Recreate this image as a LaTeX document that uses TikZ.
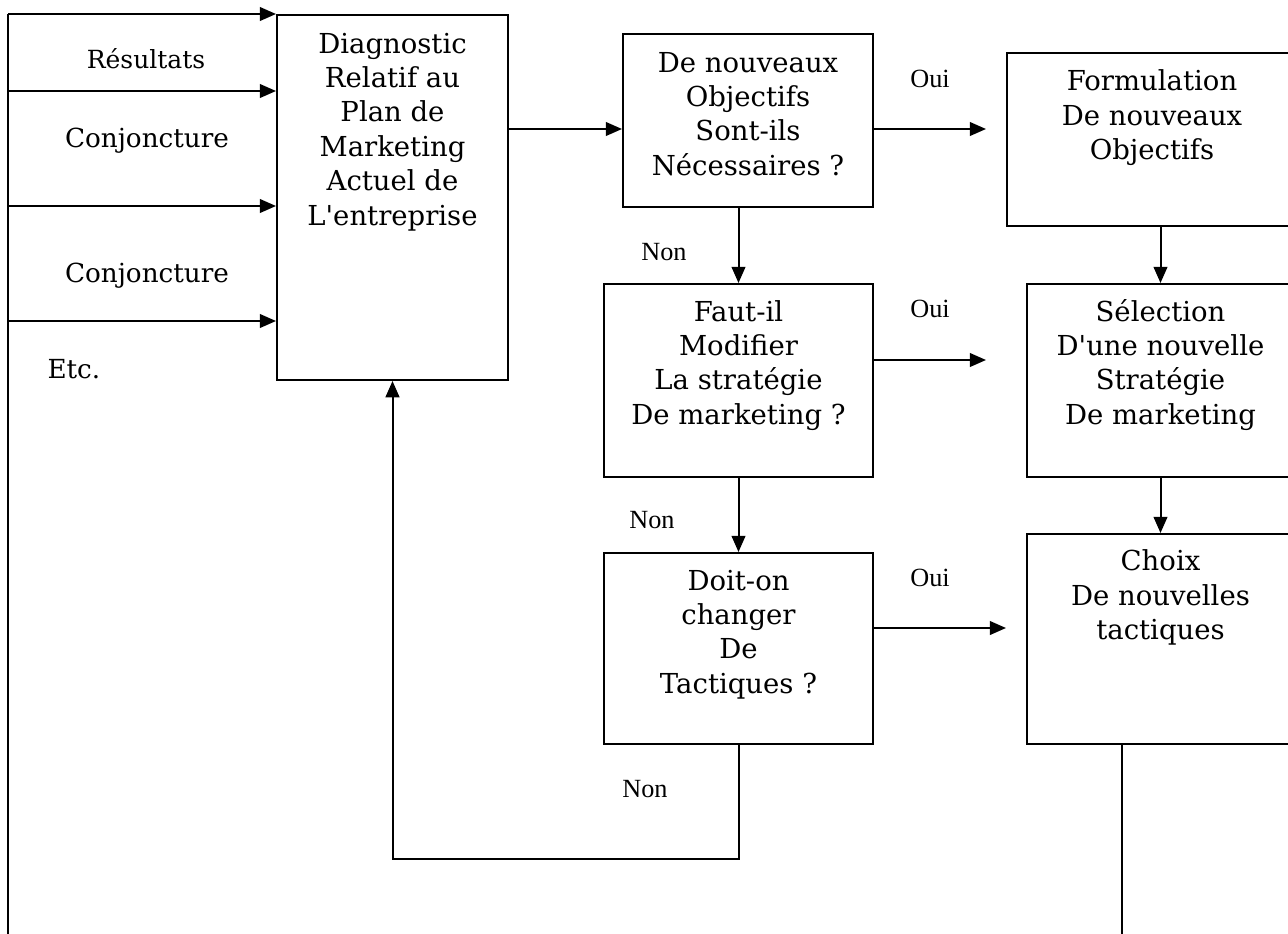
\documentclass[tikz,border=0pt]{standalone}
\usepackage{fontspec}
\setmainfont{DejaVu Serif}
\newfontfamily\labfont{Liberation Serif}
\usetikzlibrary{arrows.meta,positioning}

\tikzset{
  box/.style={draw, line width=0.8pt, inner sep=0pt, anchor=north west},
  txt/.style={align=center, anchor=base, inner sep=0pt, font=\fontsize{11}{13.76}\selectfont},
  side/.style={anchor=base, inner sep=0pt, font=\fontsize{10.5}{13}\selectfont},
  lab/.style={anchor=base, inner sep=0pt, font=\labfont\fontsize{10.5}{12}\selectfont},
  arr/.style={line width=0.8pt, -{Triangle[length=6.5pt,width=5.5pt]}},
}

\begin{document}
\begin{tikzpicture}[x=0.4pt, y=-0.4pt]
\useasboundingbox (0,0) rectangle (1288,934);
\clip (0,0) rectangle (1288,934);

% boxes
\node[box, minimum width=92.4pt, minimum height=146pt] (diag) at (276,14) {};
\node[box, minimum width=100pt, minimum height=69.2pt] (q1) at (622,33) {};
\node[box, minimum width=107.6pt, minimum height=77.2pt] (q2) at (603,283) {};
\node[box, minimum width=107.6pt, minimum height=76.4pt] (q3) at (603,552) {};
\node[box, minimum width=116pt, minimum height=69.2pt] (a1) at (1006,52) {};
\node[box, minimum width=106.8pt, minimum height=77.2pt] (a2) at (1026,283) {};
\node[box, minimum width=106.8pt, minimum height=84pt] (a3) at (1026,533) {};

% box texts (anchored on the last line)
\node[txt] (diagtxt) at ([yshift=-84.4pt]diag.north) {Diagnostic\\Relatif au\\Plan de\\Marketing\\Actuel de\\L\textquotesingle entreprise};
\node[txt] (q1txt) at ([yshift=-56.9pt]q1.north) {De nouveaux\\Objectifs\\Sont-ils\\Nécessaires ?};
\node[txt] (q2txt) at ([yshift=-56.5pt]q2.north) {Faut-il\\Modifier\\La stratégie\\De marketing ?};
\node[txt] (q3txt) at ([yshift=-56.5pt]q3.north) {Doit-on\\changer\\De\\Tactiques ?};
\node[txt] (a1txt) at ([yshift=-43.1pt]a1.north) {Formulation\\De nouveaux\\Objectifs};
\node[txt] (a2txt) at ([yshift=-56.5pt]a2.north) {Sélection\\D\textquotesingle une nouvelle\\Stratégie\\De marketing};
\node[txt] (a3txt) at ([yshift=-42.7pt]a3.north) {Choix\\De nouvelles\\tactiques};

% inputs on the left
\coordinate (lt) at (8,14);
\coordinate (lb) at (8,934);
\draw[line width=0.5pt] (lb) -- (lt);
\draw[arr] (lt) -- (diag.north west);
\foreach \y in {91,206,321}
  \draw[arr] (8,\y) -- (diag.west |- 0,\y);

\node[side, font=\fontsize{10}{12}\selectfont] (res) at (146,68) {Résultats};
\node[side] (conj1) at (147,147) {Conjoncture};
\node[side] (conj2) at (147,282) {Conjoncture};
\node[side, anchor=base west] (etc) at (47,378) {Etc.};

% main flow
\coordinate (o1) at (986,129);
\coordinate (o2) at (986,360);
\coordinate (o3) at (1006,628);
\draw[arr] (diag.east |- o1) -- (q1.west |- o1);
\draw[arr] (q1.east |- o1) -- (o1);
\draw[arr] (q2.east |- o2) -- (o2);
\draw[arr] (q3.east |- o3) -- (o3);
\draw[arr] (q1.south -| q2.north) -- (q2.north);
\draw[arr] (q2.south) -- (q3.north);
\draw[arr] (a1.south -| a2.north) -- (a2.north);
\draw[arr] (a2.south) -- (a3.north);

\node[lab] (oui1) at (930,87) {Oui};
\node[lab] (oui2) at (930,317) {Oui};
\node[lab] (oui3) at (930,586) {Oui};
\node[lab] (non1) at (664,260) {Non};
\node[lab] (non2) at (652,528) {Non};
\node[lab] (non3) at (645,797) {Non};

% loop back
\coordinate (fb) at (diag.south |- 0,859);
\draw[arr] (q3.south) |- (fb) -- (diag.south);

\coordinate (cb) at (1122,934);
\draw[line width=0.5pt] (a3.south -| cb) -- (cb);

\end{tikzpicture}
\end{document}
